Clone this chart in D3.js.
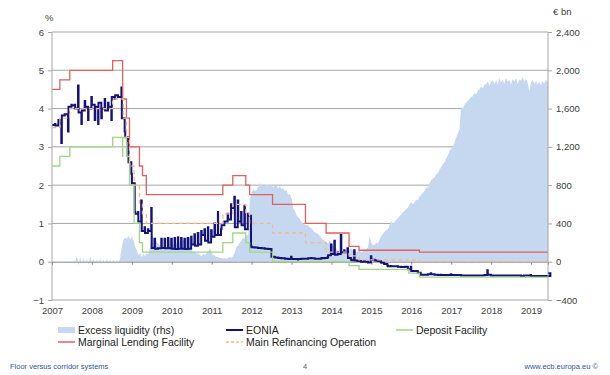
<!DOCTYPE html>
<html>
<head>
<meta charset="utf-8">
<script src="https://cdn.jsdelivr.net/npm/d3@7"></script>
<style>
body { margin: 0; background: #fff; }
svg { font-family: "Liberation Sans", Arial, sans-serif; }
.tick text { fill: #404040; font-size: 9.5px; }
</style>
</head>
<body>
<svg id="chart" width="610" height="375"></svg>
<script>
// ECB key rates (%), step changes
const rateDates = ["2007-01-01","2007-03-14","2007-06-13","2008-07-09","2008-10-08","2008-10-09","2008-10-15",
  "2008-11-12","2008-12-10","2009-01-21","2009-03-11","2009-04-08","2009-05-13","2011-04-13","2011-07-13",
  "2011-11-09","2011-12-14","2012-07-11","2013-05-08","2013-11-13","2014-06-11","2014-09-10","2015-12-09","2016-03-16"]
const mlf = [4.5,4.75,5.0,5.25,4.75,4.25,4.25,3.75,3.0,3.0,2.5,2.25,1.75,2.0,2.25,2.0,1.75,1.5,1.0,0.75,0.4,0.3,0.3,0.25]
const mro = [3.5,3.75,4.0,4.25,4.25,4.25,3.75,3.25,2.5,2.0,1.5,1.25,1.0,1.25,1.5,1.25,1.0,0.75,0.5,0.25,0.15,0.05,0.05,0.0]
const dfr = [2.5,2.75,3.0,3.25,2.75,3.25,3.25,2.75,2.0,1.0,0.5,0.25,0.25,0.5,0.75,0.5,0.25,0.0,0.0,0.0,-0.1,-0.2,-0.3,-0.4]

// EONIA (%): per month [level, month-end]
const eonia2007 = [3.57,3.6, 3.56,3.58, 3.7,3.1, 3.82,3.85, 3.85,3.4, 4.05,4.1, 4.08,4.1, 4.0,4.6, 3.9,3.6, 3.95,4.2, 4.05,3.7, 4.0,4.3]
const eonia2008 = [4.1,3.7, 4.05,3.6, 4.15,3.75, 4.0,4.25, 3.95,4.15, 4.05,3.7, 4.3,4.25, 4.35,4.3, 4.3,4.55, 3.75,3.4, 3.25,3.15, 2.6,2.3]
const eonia2009 = [2.05,1.3, 1.25,1.3, 1.05,1.6, 0.8,0.9, 0.75,0.85, 0.8,1.4, 0.36,0.6, 0.34,0.35, 0.35,0.6, 0.36,0.6, 0.35,0.62, 0.35,0.6]
const eonia2010 = [0.34,0.62, 0.33,0.64, 0.34,0.62, 0.34,0.6, 0.33,0.62, 0.34,0.65, 0.45,0.72, 0.42,0.75, 0.45,0.8, 0.7,0.85, 0.55,0.9, 0.5,0.82]
const eonia2011 = [0.65,1.0, 0.7,1.3, 0.7,0.85, 0.95,1.05, 1.05,1.25, 1.1,1.5, 1.4,1.7, 0.9,1.6, 1.05,1.3, 0.95,1.45, 0.85,1.25, 1.2,0.4]
const eonia2012 = [0.38,0.37, 0.37,0.36, 0.36,0.36, 0.35,0.35, 0.34,0.34, 0.33,0.33, 0.13,0.12, 0.11,0.11, 0.1,0.1, 0.09,0.09, 0.08,0.08, 0.07,0.13]
const eonia2013 = [0.07,0.07, 0.07,0.06, 0.07,0.07, 0.08,0.08, 0.08,0.08, 0.09,0.1, 0.09,0.09, 0.08,0.08, 0.08,0.08, 0.1,0.09, 0.1,0.12, 0.17,0.45]
const eonia2014 = [0.2,0.55, 0.18,0.25, 0.2,0.7, 0.25,0.3, 0.25,0.35, 0.1,0.08, 0.04,0.3, 0.03,0.02, 0.02,0.0, 0.0,0.02, 0.0,0.0, -0.02,0.14]
const eonia2015 = [0.05,0.05, 0.03,0.02, 0.02,0.0, -0.03,-0.05, -0.06,-0.1, -0.12,-0.11, -0.12,-0.12, -0.12,-0.12, -0.13,-0.14, -0.14,-0.14, -0.13,-0.14, -0.2,-0.13]
const eonia2016 = [-0.24,-0.24, -0.24,-0.25, -0.29,-0.34, -0.34,-0.34, -0.34,-0.34, -0.33,-0.3, -0.33,-0.33, -0.34,-0.34, -0.35,-0.34, -0.35,-0.35, -0.35,-0.35, -0.35,-0.33]
const eonia2017 = [-0.35,-0.35, -0.35,-0.35, -0.35,-0.35, -0.36,-0.36, -0.36,-0.36, -0.36,-0.36, -0.36,-0.36, -0.36,-0.36, -0.36,-0.36, -0.36,-0.36, -0.35,-0.22, -0.34,-0.34]
const eonia2018 = [-0.36,-0.36, -0.36,-0.36, -0.36,-0.36, -0.36,-0.36, -0.36,-0.36, -0.36,-0.36, -0.36,-0.36, -0.36,-0.36, -0.36,-0.36, -0.37,-0.36, -0.36,-0.36, -0.36,-0.35]
const eonia2019 = [-0.37,-0.37, -0.37,-0.37, -0.37,-0.37, -0.37,-0.37, -0.37,-0.37, -0.37,-0.3]

// Excess liquidity (EUR bn), 1st and 16th of each month
const excess2007 = [0,5,-5,3,-4,6,-3,5,-6,4,-5,8, -4,10,-10,60,-40,50,-30,40,-20,30,-30,60]
const excess2008 = [-20,30,-20,25,-15,30,-20,20,-10,25,-15,20, -10,20,-10,15,-10,40,160,230,250,240,270,230]
const excess2009 = [260,220,150,120,70,90,50,80,60,90,80,150, 290,250,230,200,190,160,150,130,160,140,170,230]
const excess2010 = [200,180,170,200,190,220,200,230,210,250,230,260, 120,100,110,80,90,70,60,80,70,90,110,140]
const excess2011 = [100,70,60,50,50,40,40,30,40,30,40,50, 40,60,100,160,170,200,220,250,240,270,280,650]
const excess2012 = [720,760,740,750,780,820,800,790,790,810,800,790, 800,780,790,800,770,790,760,770,740,750,700,710]
const excess2013 = [660,560,530,480,470,450,420,400,390,380,380,360, 350,330,310,300,290,270,250,230,220,200,190,220]
const excess2014 = [200,160,150,130,120,110,100,110,120,100,110,130, 140,120,110,100,110,120,90,110,120,130,150,260]
const excess2015 = [200,170,180,200,190,230,270,290,310,330,340,380, 420,400,410,440,450,480,490,520,530,550,560,600]
const excess2016 = [620,600,620,650,640,680,700,720,740,770,780,820, 850,870,880,910,930,960,990,1020,1040,1080,1110,1160]
const excess2017 = [1180,1200,1250,1300,1340,1380,1620,1600,1640,1660,1680,1700, 1720,1730,1760,1750,1790,1800,1830,1810,1850,1860,1880,1840]
const excess2018 = [1880,1890,1860,1900,1850,1920,1870,1900,1860,1920,1880,1900, 1850,1910,1880,1920,1860,1900,1890,1930,1880,1910,1870,1780]
const excess2019 = [1870,1900,1860,1890,1850,1880,1840,1890,1860,1900,1880]

const years = d3.range(2007, 2020)
const leftTicks = [-1,0,1,2,3,4,5,6]
const rightTicks = [-400,0,400,800,1200,1600,2000,2400]

const eoniaByYear = [eonia2007,eonia2008,eonia2009,eonia2010,eonia2011,eonia2012,eonia2013,eonia2014,eonia2015,eonia2016,eonia2017,eonia2018,eonia2019]
const excessByYear = [excess2007,excess2008,excess2009,excess2010,excess2011,excess2012,excess2013,excess2014,excess2015,excess2016,excess2017,excess2018,excess2019]

const endDate = new Date(2019, 5, 5)
const parse = d3.timeParse("%Y-%m-%d")

const eonia = eoniaByYear.flatMap((vals, k) => vals.map((v, i) =>
  ({date: new Date(years[k], Math.floor(i / 2), i % 2 ? 27 : 1), value: v})))
eonia.push({date: endDate, value: eonia[eonia.length - 1].value})

const excess = excessByYear.flatMap((vals, k) => vals.map((v, i) =>
  ({date: new Date(years[k], Math.floor(i / 2), i % 2 ? 16 : 1), value: v})))
excess.push({date: endDate, value: excess[excess.length - 1].value})

const stepSeries = vals => {
  const s = rateDates.map((d, i) => ({date: parse(d), value: vals[i]}))
  s.push({date: endDate, value: vals[vals.length - 1]})
  return s
}

const plotL = 52, plotR = 548, plotT = 32, plotB = 300

const x = d3.scaleTime().domain([new Date(2007, 0, 1), endDate]).range([plotL, plotR])
const yL = d3.scaleLinear().domain([-1, 6]).range([plotB, plotT])
const yR = d3.scaleLinear().domain([-400, 2400]).range([plotB, plotT])

const svg = d3.select("#chart")
const grid = "#a6a6a6"

// gridlines
svg.append("g")
  .selectAll("line")
  .data(leftTicks.filter(d => d !== 0))
  .enter().append("line")
    .attr("x1", plotL).attr("x2", plotR)
    .attr("y1", d => yL(d)).attr("y2", d => yL(d))
    .attr("stroke", grid).attr("stroke-width", 1)

// excess liquidity area (rhs)
svg.append("path")
  .datum(excess)
  .attr("fill", "#c6d8f0")
  .attr("d", d3.area().x(d => x(d.date)).y0(yR(0)).y1(d => yR(d.value)))

// zero line with year ticks
svg.append("g")
  .attr("transform", `translate(0,${yL(0)})`)
  .call(d3.axisBottom(x).ticks(d3.timeYear).tickSize(3).tickFormat(""))
  .call(g => g.selectAll("line, path").attr("stroke", "#8c8c8c"))

const line = d3.line().x(d => x(d.date)).y(d => yL(d.value)).curve(d3.curveStepAfter)

svg.append("path").datum(eonia)
  .attr("fill", "none").attr("stroke", "#13137a").attr("stroke-width", 2)
  .attr("d", line)

svg.append("path").datum(stepSeries(dfr))
  .attr("fill", "none").attr("stroke", "#9fd77f").attr("stroke-width", 1.3)
  .attr("d", line)

svg.append("path").datum(stepSeries(mlf))
  .attr("fill", "none").attr("stroke", "#e0605f").attr("stroke-width", 1.3)
  .attr("d", line)

svg.append("path").datum(stepSeries(mro))
  .attr("fill", "none").attr("stroke", "#f5b88a").attr("stroke-width", 1.3)
  .attr("stroke-dasharray", "4,3")
  .attr("d", line)

// axes
svg.append("g")
  .attr("transform", `translate(${plotL},0)`)
  .call(d3.axisLeft(yL).tickValues(leftTicks).tickSize(4).tickPadding(4).tickFormat(d3.format("d")))
  .call(g => g.selectAll("line, path").attr("stroke", grid))
  .call(g => g.select(".domain").attr("d", `M0,${plotT}V${plotB}`))

svg.append("g")
  .attr("transform", `translate(${plotR},0)`)
  .call(d3.axisRight(yR).tickValues(rightTicks).tickSize(4).tickPadding(4).tickFormat(d3.format(",")))
  .call(g => g.selectAll("line, path").attr("stroke", grid))
  .call(g => g.select(".domain").attr("d", `M0,${plotT}V${plotB}`))

svg.append("g")
  .attr("transform", `translate(0,${plotB})`)
  .call(d3.axisBottom(x).tickValues(years.map(y => new Date(y, 0, 1))).tickSize(0).tickPadding(7).tickFormat(d3.timeFormat("%Y")))
  .call(g => g.select(".domain").remove())

svg.append("text").attr("x", 45).attr("y", 21).attr("font-size", 9.5).attr("fill", "#404040").text("%")
svg.append("text").attr("x", 553).attr("y", 15).attr("font-size", 9.5).attr("fill", "#404040").text("€ bn")

// legend
const legendItems = [
  {name: "Excess liquidity (rhs)", type: "area", color: "#c6d8f0", col: 0, row: 0},
  {name: "EONIA", type: "line", color: "#13137a", col: 1, row: 0},
  {name: "Deposit Facility", type: "line", color: "#9fd77f", col: 2, row: 0},
  {name: "Marginal Lending Facility", type: "line", color: "#e0605f", col: 0, row: 1},
  {name: "Main Refinancing Operation", type: "dash", color: "#f5b88a", col: 1, row: 1}
]
const colX = [58, 226, 396]

const legend = svg.append("g")
  .selectAll("g")
  .data(legendItems)
  .enter().append("g")
    .attr("transform", d => `translate(${colX[d.col]},${330 + d.row * 12})`)

legend.filter(d => d.type === "area").append("rect")
  .attr("x", 0).attr("y", -3).attr("width", 17).attr("height", 6)
  .attr("fill", d => d.color)

legend.filter(d => d.type !== "area").append("line")
  .attr("x1", 0).attr("x2", 17).attr("y1", 0).attr("y2", 0)
  .attr("stroke", d => d.color)
  .attr("stroke-width", d => d.name === "EONIA" ? 2 : 1.5)
  .attr("stroke-dasharray", d => d.type === "dash" ? "3,2" : null)

legend.append("text")
  .attr("x", 20).attr("dy", "0.35em")
  .attr("font-size", 10.5).attr("fill", "#222")
  .text(d => d.name)

// footer
svg.append("text").attr("x", 10).attr("y", 369).attr("font-size", 7.5).attr("fill", "#2f5597").text("Floor versus corridor systems")
svg.append("text").attr("x", 305).attr("y", 369).attr("font-size", 7.5).attr("fill", "#555").attr("text-anchor", "middle").text("4")
svg.append("text").attr("x", 598).attr("y", 369).attr("font-size", 7.5).attr("fill", "#2f5597").attr("text-anchor", "end").text("www.ecb.europa.eu ©")
</script>
</body>
</html>
